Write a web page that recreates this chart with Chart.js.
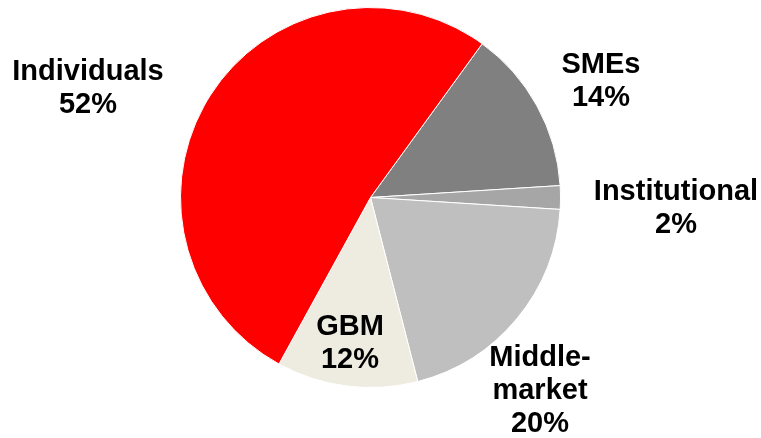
<!DOCTYPE html>
<html>
<head>
<meta charset="utf-8">
<script src="https://cdn.jsdelivr.net/npm/chart.js@4/dist/chart.umd.min.js"></script>
<style>
  html, body { margin: 0; padding: 0; background: #ffffff; }
  #wrap { width: 761px; height: 438px; position: relative; }
</style>
</head>
<body>
<div id="wrap"><canvas id="c" width="761" height="438"></canvas></div>
<script>
// Loan portfolio breakdown by segment (share of total, %)
const segments = ['SMEs', 'Institutional', 'Middle-market', 'GBM', 'Individuals'];
const shares = [14, 2, 20, 12, 52];
const labelLines = [['SMEs'], ['Institutional'], ['Middle-', 'market'], ['GBM'], ['Individuals']];

// Slice colours and label anchors (pixel positions of each label block's first line)
const sliceColors = ['#808080', '#A6A6A6', '#BFBFBF', '#EEECE1', '#FF0000'];
const labelAnchors = [
  { x: 601, y: 65 },
  { x: 676, y: 192 },
  { x: 540, y: 358 },
  { x: 350, y: 327 },
  { x: 88, y: 72 }
];

const segmentLabels = {
  id: 'segmentLabels',
  afterDatasetsDraw(chart) {
    const ctx = chart.ctx;
    const values = chart.data.datasets[0].data;
    ctx.save();
    ctx.font = 'bold 29px "Liberation Sans", Arial, sans-serif';
    ctx.fillStyle = '#000000';
    ctx.textAlign = 'center';
    ctx.textBaseline = 'middle';
    values.forEach((v, i) => {
      const lines = labelLines[i].concat([v + '%']);
      const a = labelAnchors[i];
      lines.forEach((t, k) => ctx.fillText(t, a.x, a.y + k * 33));
    });
    ctx.restore();
  }
};

new Chart(document.getElementById('c'), {
  type: 'pie',
  data: {
    labels: segments,
    datasets: [{
      data: shares,
      backgroundColor: sliceColors,
      borderColor: '#ffffff',
      borderWidth: 1
    }]
  },
  options: {
    responsive: false,
    animation: false,
    rotation: 36,
    layout: { padding: { left: 180, right: 200, top: 7, bottom: 50 } },
    plugins: {
      legend: { display: false },
      tooltip: { enabled: false }
    }
  },
  plugins: [segmentLabels]
});
</script>
</body>
</html>
